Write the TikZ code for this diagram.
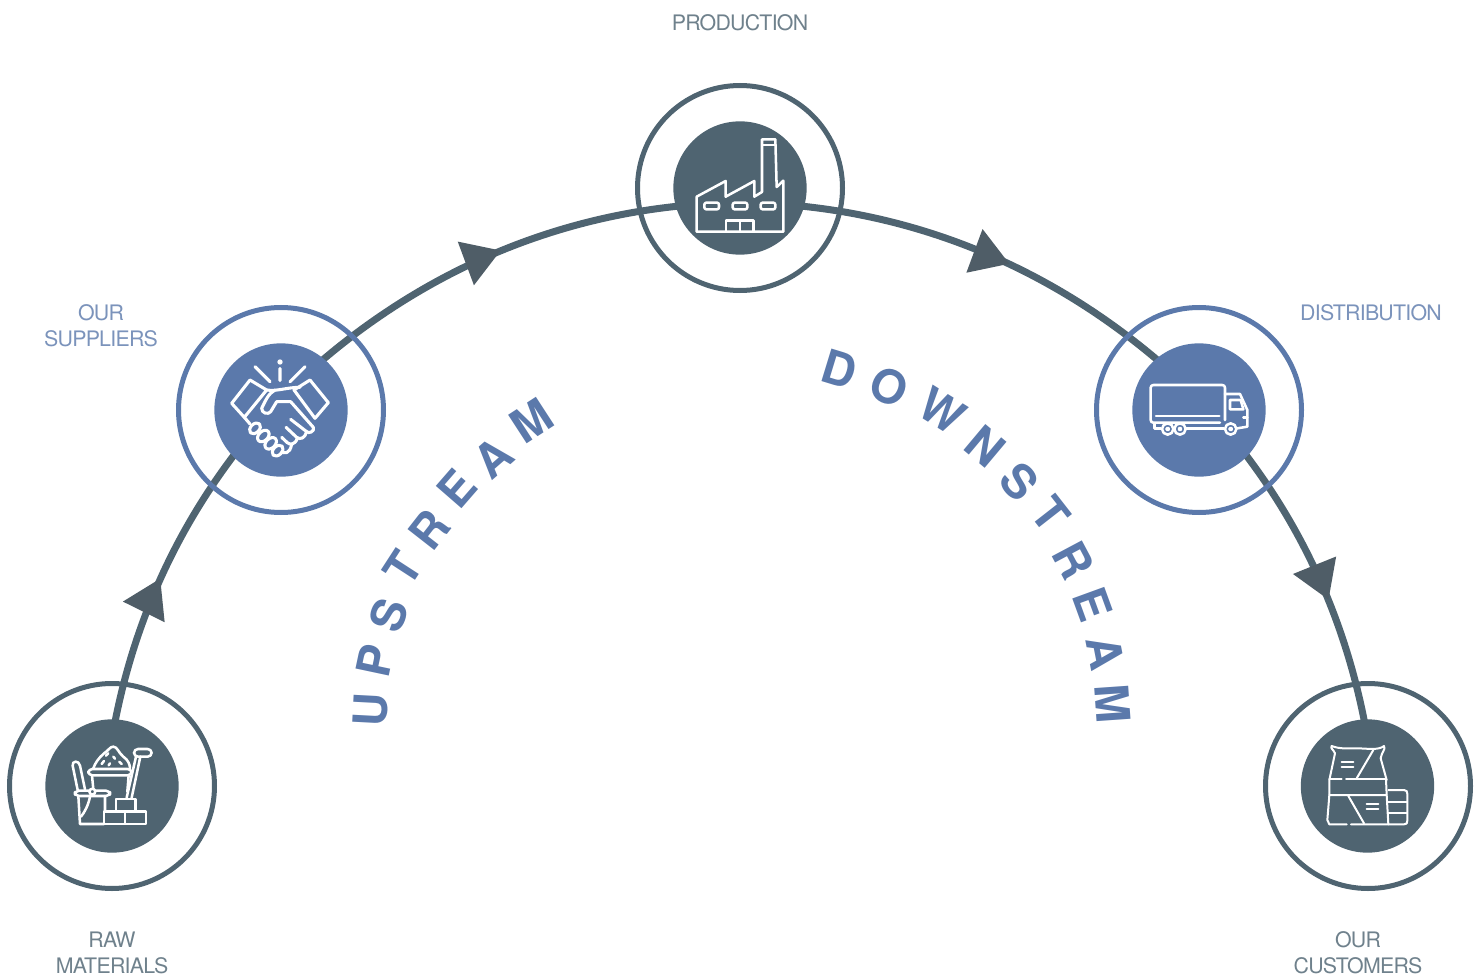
\documentclass[tikz,border=0pt]{standalone}
\usepackage{fontspec}
\usetikzlibrary{arrows.meta,decorations.markings,backgrounds}
\setmainfont{TeX Gyre Heros}
\newfontfamily\lblfont[LetterSpace=-3.5]{TeX Gyre Heros}
\definecolor{slatec}{HTML}{4F6471}
\definecolor{arrowc}{HTML}{4F5D67}
\definecolor{bluec}{HTML}{5B79AB}
\definecolor{lblgrey}{HTML}{6F818C}
\definecolor{lblblue}{HTML}{7B93BB}
\tikzset{
  ringslate/.style={circle,draw=slatec,line width=3.75pt,minimum size=153.75pt,inner sep=0pt,outer sep=0pt},
  ringblue/.style={ringslate,draw=bluec},
  diskslate/.style={circle,fill=slatec,minimum size=100pt,inner sep=0pt,outer sep=0pt},
  diskblue/.style={diskslate,fill=bluec},
  flow/.style 2 args={draw=slatec,line width=5.25pt,shorten <=-3pt,shorten >=-3pt,postaction={decorate},
    decoration={markings,mark=at position #1 with {\pgftransformrotate{#2}\arrow{Triangle[length=28pt,width=33.5pt,color=arrowc,fill=arrowc]}}}},
  lbl/.style={font=\lblfont\fontsize{16}{19.5}\selectfont,align=center,inner sep=0pt,text=lblgrey},
  lblb/.style={lbl,text=lblblue},
  ltr/.style={font=\bfseries\fontsize{35}{35}\selectfont,text=bluec,inner sep=0pt},
  icon/.style={draw=white,line width=1.9pt,line join=round,line cap=round,x=0.25pt,y=-0.25pt}
}
\begin{document}
\begin{tikzpicture}[x=0.75pt,y=-0.75pt]
\useasboundingbox (0,0) rectangle (1482,977);
% rings and disks
\node[ringslate] (rawring) at (112,786) {};
\node[diskslate] (raw) at (112,786) {};
\node[ringblue] (supring) at (281,410) {};
\node[diskblue] (sup) at (281,410) {};
\node[ringslate] (prodring) at (740,188) {};
\node[diskslate] (prod) at (740,188) {};
\node[ringblue] (distring) at (1199,410) {};
\node[diskblue] (dist) at (1199,410) {};
\node[ringslate] (custring) at (1368,786) {};
\node[diskslate] (cust) at (1367.5,786) {};
% connectors
\begin{scope}[on background layer]
\draw[flow={0.51}{-2}] (raw.87) to[out=79,in=232.7,looseness=0.863] (sup.224);
\draw[flow={0.535}{-2}] (sup.50) to[out=40.5,in=185.8,looseness=0.872] (prod.196);
\draw[flow={0.55}{5}] (prod.344) to[out=-5.8,in=139.5,looseness=0.872] (dist.130);
\draw[flow={0.57}{0}] (dist.-44) to[out=-52.7,in=101,looseness=0.863] (cust.93);
\end{scope}
% labels
\node[lbl] (tprod) at (740,23) {PRODUCTION};
\node[lblb] (tsup) at (101,326) {OUR\\SUPPLIERS};
\node[lblb] (tdist) at (1371,313) {DISTRIBUTION};
\node[lbl] (traw) at (112,953) {RAW\\MATERIALS};
\node[lbl] (tcust) at (1358,953) {OUR\\CUSTOMERS};
% UPSTREAM
\node[ltr,rotate=87] (u1) at (371,710) {U};
\node[ltr,rotate=78] (u2) at (375,661) {P};
\node[ltr,rotate=70] (u3) at (389,615) {S};
\node[ltr,rotate=57] (u4) at (403,568) {T};
\node[ltr,rotate=52] (u5) at (429,530) {R};
\node[ltr,rotate=49] (u6) at (457,489) {E};
\node[ltr,rotate=41] (u7) at (493,458) {A};
\node[ltr,rotate=33] (u8) at (532,421) {M};
% DOWNSTREAM
\node[ltr,rotate=-17] (d1) at (840,369) {D};
\node[ltr,rotate=-25] (d2) at (889,387) {O};
\node[ltr,rotate=-32] (d3) at (942,411) {W};
\node[ltr,rotate=-40] (d4) at (985,446) {N};
\node[ltr,rotate=-48] (d5) at (1020,482) {S};
\node[ltr,rotate=-52] (d6) at (1051,514) {T};
\node[ltr,rotate=-62] (d7) at (1073,560) {R};
\node[ltr,rotate=-70] (d8) at (1093,604) {E};
\node[ltr,rotate=-79] (d9) at (1105,653) {A};
\node[ltr,rotate=-86] (d10) at (1113,704) {M};
% raw materials icon
\begin{scope}[shift={(30,700)},icon]
\draw[rounded corners=3pt] (175,207) rectangle (305,226);
\draw (190,205) .. controls (195,190) and (205,175) .. (222,160) .. controls (235,152) and (240,140) .. (250,140) .. controls (262,140) and (265,158) .. (280,170) .. controls (295,180) and (300,195) .. (300,205);
\draw (228,167)--(235,160) (215,192)--(222,183) (250,170)--(255,176) (268,185)--(275,192) (240,190)--(236,196);
\draw (186,226)--(190,268) (296,226)--(292,275);
\draw[rounded corners=3pt] (312,147) rectangle (365,170);
\draw (318,170)--(290,293) (331,170)--(305,293);
\draw (258,297) rectangle (316,334);
\draw (222,334) rectangle (285,372);
\draw (285,334) rectangle (348,372);
\draw[rounded corners=3pt] (135,272) rectangle (240,288);
\draw[fill=slatec] (187,275) circle[radius=2.2pt];
\draw (145,288)--(150,372)--(222,372) (225,288)--(225,332);
\draw (180,290) .. controls (175,315) and (165,335) .. (153,350);
\draw (143,270)--(128,197) .. controls (125,182) and (147,180) .. (150,197)--(165,268);
\end{scope}
% handshake icon
\begin{scope}[shift={(200,330)},icon,line width=2.3pt]
\draw (165,110)--(210,155) (240,115)--(240,152) (315,110)--(270,155);
\fill[white] (240,96) circle[radius=2pt];
\draw (150,150)--(95,220)--(133,262)--(200,180)--cycle;
\draw (330,150)--(385,218)--(345,265)--(282,180)--cycle;
\draw (200,180) .. controls (230,185) and (260,172) .. (300,172);
\draw (225,180) .. controls (205,190) and (195,215) .. (185,235) .. controls (185,250) and (205,255) .. (212,245) -- (230,215) -- (272,215) -- (340,292) .. controls (345,305) and (325,312) .. (320,305) -- (272,268);
\draw (320,305) .. controls (315,325) and (300,330) .. (290,322) -- (258,292);
\draw (292,325) .. controls (285,345) and (270,345) .. (262,338) -- (245,322);
\draw (275,342) .. controls (270,375) and (250,370) .. (245,365);
\draw (133,262)--(150,282);
\draw[rotate around={45:(165,295)}] (165,295) ellipse[x radius=19,y radius=13];
\draw[rotate around={45:(190,318)}] (190,318) ellipse[x radius=20,y radius=14];
\draw[rotate around={45:(212,340)}] (212,340) ellipse[x radius=20,y radius=14];
\draw[rotate around={45:(233,362)}] (233,362) ellipse[x radius=19,y radius=13];
\end{scope}
% factory icon
\begin{scope}[shift={(660,110)},icon]
\draw (110,365)--(110,260)--(197,213)--(197,260)--(283,213)--(283,260)--(306,246)--(306,88)--(346,88)--(350,231)--(370,212)--(370,365)--cycle;
\draw (307,105)--(346,105);
\draw[rounded corners=1.5pt] (133,278) rectangle (177,298);
\draw[rounded corners=1.5pt] (218,278) rectangle (262,298);
\draw[rounded corners=1.5pt] (302,278) rectangle (346,298);
\draw (198,365)--(198,331)--(280,331)--(280,365);
\draw (240,331)--(240,365);
\end{scope}
% truck icon
\begin{scope}[shift={(1120,330)},icon]
\draw[rounded corners=2pt] (300,278)--(92,278)--(92,165)--(315,165)--(315,270);
\draw (108,258)--(298,258);
\draw (315,192)--(360,192)--(382,240)--(382,290)--(352,295);
\draw (330,210)--(362,210)--(370,238)--(330,238)--cycle;
\draw (370,262)--(382,262);
\draw (103,280)--(103,295)--(122,295);
\draw (197,295)--(312,295);
\draw (143,297) circle[radius=17] (143,297) circle[radius=4];
\draw (180,297) circle[radius=17] (180,297) circle[radius=4];
\draw (332,297) circle[radius=17] (332,297) circle[radius=4];
\end{scope}
% bags icon
\begin{scope}[shift={(1290,710)},icon,line width=1.5pt]
\draw (135,130) .. controls (130,118) and (120,115) .. (125,108) .. controls (150,118) and (180,115) .. (200,115) .. controls (230,115) and (265,122) .. (282,108) .. controls (288,118) and (275,125) .. (272,145) -- (290,210);
\draw (135,130)--(118,210)--(118,255)--(112,330)--(118,343)--(170,343);
\draw (183,343)--(295,343)--(290,255)--(118,255);
\draw (118,208)--(155,208) (168,208)--(288,208);
\draw (288,208)--(290,255);
\draw (250,120)--(200,205) (175,258)--(222,340);
\draw (155,155)--(190,155) (155,172)--(190,172);
\draw (230,282)--(265,282) (230,298)--(265,298);
\draw (295,240)--(342,240) .. controls (350,240) and (352,245) .. (352,252)--(352,332) .. controls (352,340) and (350,343) .. (342,343)--(295,343);
\draw (295,275)--(350,275) (295,310)--(350,310);
\end{scope}
\end{tikzpicture}
\end{document}
